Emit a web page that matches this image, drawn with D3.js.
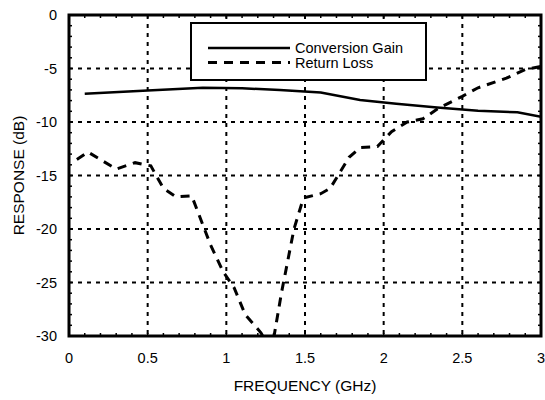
<!DOCTYPE html>
<html>
<head>
<meta charset="utf-8">
<script src="https://cdn.jsdelivr.net/npm/d3@7"></script>
<style>
  body { margin: 0; background: #fff; }
  svg { font-family: "Liberation Sans", Arial, sans-serif; }
  .grid line { stroke: #000; stroke-width: 2; stroke-dasharray: 4,5; }
</style>
</head>
<body>
<svg class="chart"></svg>
<script>
// data
const gainFreq = [0.1, 0.5, 0.85, 1.1, 1.34, 1.6, 1.85, 2.08, 2.34, 2.6, 2.85, 3.0];
const gainDb   = [-7.35, -7.05, -6.8, -6.85, -7.0, -7.25, -7.95, -8.3, -8.65, -8.95, -9.1, -9.5];

const lossFreq = [0.05, 0.12, 0.3, 0.42, 0.52, 0.6, 0.68, 0.78, 0.9, 0.98, 1.05, 1.12, 1.22, 1.27, 1.3, 1.35, 1.43, 1.49, 1.6, 1.66, 1.78, 1.85, 1.96, 2.05, 2.15, 2.25, 2.35, 2.5, 2.6, 2.78, 2.9, 3.0];
const lossDb   = [-13.5, -12.8, -14.4, -13.8, -14.1, -16.2, -17.0, -16.9, -21.5, -24.0, -25.5, -28.0, -29.7, -31.0, -30.3, -26.0, -20.0, -17.1, -16.7, -16.2, -13.3, -12.4, -12.3, -10.9, -10.0, -9.7, -8.7, -7.6, -6.8, -5.9, -5.1, -4.8];

const xTicks = [0, 0.5, 1, 1.5, 2, 2.5, 3];
const yTicks = [0, -5, -10, -15, -20, -25, -30];
const seriesNames = ['Conversion Gain', 'Return Loss'];

// sizes
const svgWidth = 545;
const svgHeight = 400;
const margin = { top: 15, right: 4, bottom: 64, left: 69 };
const width = svgWidth - margin.left - margin.right;
const height = svgHeight - margin.top - margin.bottom;

const svg = d3.select('.chart')
    .attr('width', svgWidth)
    .attr('height', svgHeight);

const g = svg.append('g')
    .attr('transform', `translate(${margin.left},${margin.top})`);

const xScale = d3.scaleLinear().domain([0, 3]).range([0, width]);
const yScale = d3.scaleLinear().domain([-30, 0]).range([height, 0]);

// dotted grid
g.append('g').attr('class', 'grid')
    .selectAll('line')
    .data(xTicks.slice(1, -1))
    .join('line')
    .attr('x1', d => xScale(d)).attr('x2', d => xScale(d))
    .attr('y1', 0).attr('y2', height);

g.append('g').attr('class', 'grid')
    .selectAll('line')
    .data(yTicks.slice(1, -1))
    .join('line')
    .attr('y1', d => yScale(d)).attr('y2', d => yScale(d))
    .attr('x1', 0).attr('x2', width);

// minor ticks on all four sides, pointing in
const xMinor = d3.range(1, 30).map(i => i / 10);
const yMinor = d3.range(-29, 0);
const tickLen = 3;

const ticks = g.append('g').attr('stroke', '#000').attr('stroke-width', 1.5);
ticks.selectAll('.tb').data(xMinor).join('line')
    .attr('x1', d => xScale(d)).attr('x2', d => xScale(d))
    .attr('y1', height).attr('y2', height - tickLen);
ticks.selectAll('.tt').data(xMinor).join('line')
    .attr('x1', d => xScale(d)).attr('x2', d => xScale(d))
    .attr('y1', 0).attr('y2', tickLen);
ticks.selectAll('.tl').data(yMinor).join('line')
    .attr('y1', d => yScale(d)).attr('y2', d => yScale(d))
    .attr('x1', 0).attr('x2', tickLen);
ticks.selectAll('.tr').data(yMinor).join('line')
    .attr('y1', d => yScale(d)).attr('y2', d => yScale(d))
    .attr('x1', width).attr('x2', width - tickLen);

// clip so the dip below -30 is cut off
svg.append('defs').append('clipPath').attr('id', 'clip')
    .append('rect').attr('width', width).attr('height', height);

const line = d3.line()
    .x(d => xScale(d[0]))
    .y(d => yScale(d[1]));

const gainData = gainFreq.map((f, i) => [f, gainDb[i]]);
const lossData = lossFreq.map((f, i) => [f, lossDb[i]]);

const plot = g.append('g').attr('clip-path', 'url(#clip)');
plot.append('path')
    .datum(gainData)
    .attr('fill', 'none')
    .attr('stroke', '#000')
    .attr('stroke-width', 2.5)
    .attr('d', line);

plot.append('path')
    .datum(lossData)
    .attr('fill', 'none')
    .attr('stroke', '#000')
    .attr('stroke-width', 3)
    .attr('stroke-dasharray', '9,7')
    .attr('d', line);

// frame
g.append('rect')
    .attr('width', width).attr('height', height)
    .attr('fill', 'none')
    .attr('stroke', '#000')
    .attr('stroke-width', 3);

// tick labels
g.selectAll('.xlab').data(xTicks).join('text')
    .attr('x', d => xScale(d))
    .attr('y', height + 27)
    .attr('text-anchor', 'middle')
    .attr('font-size', 14.5)
    .text(d => d);

g.selectAll('.ylab').data(yTicks).join('text')
    .attr('x', -12)
    .attr('y', d => yScale(d) + 5)
    .attr('text-anchor', 'end')
    .attr('font-size', 14.5)
    .text(d => d);

// axis titles
svg.append('text')
    .attr('x', margin.left + width / 2)
    .attr('y', 391)
    .attr('text-anchor', 'middle')
    .attr('font-size', 15.5)
    .text('FREQUENCY (GHz)');

svg.append('text')
    .attr('transform', `translate(24,${margin.top + height / 2}) rotate(-90)`)
    .attr('text-anchor', 'middle')
    .attr('font-size', 15.5)
    .text('RESPONSE (dB)');

// legend
const legend = svg.append('g').attr('transform', 'translate(191,23)');
legend.append('rect')
    .attr('width', 235).attr('height', 57)
    .attr('fill', '#fff')
    .attr('stroke', '#000')
    .attr('stroke-width', 2);

seriesNames.forEach(function(name, i) {
    const y = 25 + i * 14.5;
    legend.append('line')
        .attr('x1', 17).attr('x2', 99)
        .attr('y1', y).attr('y2', y)
        .attr('stroke', '#000')
        .attr('stroke-width', i === 0 ? 2.5 : 3)
        .attr('stroke-dasharray', i === 0 ? null : '9,7');
    legend.append('text')
        .attr('x', 104)
        .attr('y', y + 5)
        .attr('font-size', 14.5)
        .text(name);
});
</script>
</body>
</html>
